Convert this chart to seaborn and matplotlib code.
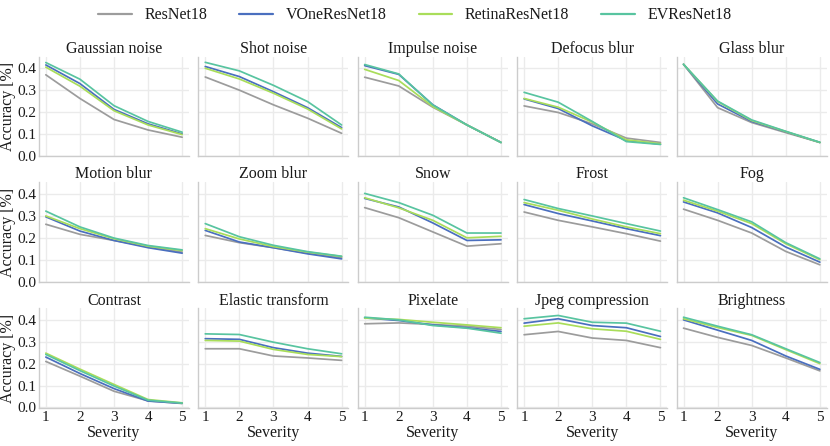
"""
Corruption robustness: accuracy vs. severity for each ImageNet-C corruption.
"""
import matplotlib
matplotlib.use("Agg")
import matplotlib.pyplot as plt
import pandas as pd
import seaborn as sns

SEVERITY = [1, 2, 3, 4, 5]
MODELS = ["ResNet18", "VOneResNet18", "RetinaResNet18", "EVResNet18"]
COLORS = ["#9c9c9c", "#4a6fbf", "#a9dd5a", "#58c4a0"]
CORRUPTIONS = [
    "Gaussian noise", "Shot noise", "Impulse noise", "Defocus blur", "Glass blur",
    "Motion blur", "Zoom blur", "Snow", "Frost", "Fog",
    "Contrast", "Elastic transform", "Pixelate", "Jpeg compression", "Brightness",
]

# accuracy per corruption, one list per model (ResNet18, VOne, Retina, EV)
gaussian_noise = [[0.370, 0.262, 0.166, 0.118, 0.085],
                  [0.415, 0.330, 0.212, 0.146, 0.100],
                  [0.405, 0.318, 0.206, 0.141, 0.097],
                  [0.426, 0.350, 0.229, 0.157, 0.108]]
shot_noise = [[0.360, 0.300, 0.233, 0.172, 0.103],
              [0.408, 0.362, 0.293, 0.220, 0.129],
              [0.400, 0.351, 0.286, 0.214, 0.123],
              [0.427, 0.388, 0.322, 0.248, 0.141]]
impulse_noise = [[0.359, 0.319, 0.222, 0.141, 0.061],
                 [0.412, 0.372, 0.233, 0.141, 0.061],
                 [0.395, 0.344, 0.225, 0.141, 0.061],
                 [0.417, 0.374, 0.232, 0.141, 0.061]]
defocus_blur = [[0.228, 0.198, 0.146, 0.081, 0.061],
                [0.260, 0.216, 0.137, 0.070, 0.053],
                [0.262, 0.222, 0.154, 0.073, 0.055],
                [0.290, 0.245, 0.157, 0.065, 0.052]]
glass_blur = [[0.418, 0.220, 0.152, 0.106, 0.061],
              [0.418, 0.237, 0.157, 0.110, 0.061],
              [0.418, 0.248, 0.161, 0.111, 0.061],
              [0.418, 0.250, 0.164, 0.112, 0.062]]
motion_blur = [[0.262, 0.216, 0.188, 0.160, 0.135],
               [0.296, 0.231, 0.188, 0.155, 0.130],
               [0.300, 0.242, 0.196, 0.162, 0.142],
               [0.322, 0.250, 0.199, 0.165, 0.145]]
zoom_blur = [[0.211, 0.178, 0.155, 0.130, 0.110],
             [0.234, 0.181, 0.155, 0.127, 0.104],
             [0.242, 0.195, 0.160, 0.135, 0.115],
             [0.265, 0.205, 0.166, 0.137, 0.116]]
snow = [[0.338, 0.292, 0.227, 0.162, 0.173],
        [0.380, 0.341, 0.268, 0.188, 0.191],
        [0.383, 0.337, 0.280, 0.200, 0.207],
        [0.403, 0.361, 0.303, 0.222, 0.222]]
frost = [[0.318, 0.280, 0.250, 0.219, 0.185],
         [0.352, 0.311, 0.277, 0.242, 0.210],
         [0.361, 0.326, 0.286, 0.250, 0.219],
         [0.375, 0.334, 0.300, 0.265, 0.231]]
fog = [[0.331, 0.280, 0.222, 0.138, 0.077],
       [0.364, 0.314, 0.247, 0.158, 0.089],
       [0.372, 0.322, 0.265, 0.173, 0.100],
       [0.383, 0.329, 0.273, 0.178, 0.104]]
contrast = [[0.210, 0.143, 0.074, 0.030, 0.018],
            [0.230, 0.155, 0.086, 0.029, 0.019],
            [0.248, 0.175, 0.105, 0.036, 0.021],
            [0.242, 0.168, 0.098, 0.033, 0.020]]
elastic_transform = [[0.268, 0.268, 0.235, 0.226, 0.215],
                     [0.314, 0.311, 0.273, 0.248, 0.233],
                     [0.306, 0.303, 0.265, 0.242, 0.232],
                     [0.336, 0.333, 0.298, 0.268, 0.245]]
pixelate = [[0.382, 0.386, 0.379, 0.371, 0.356],
            [0.409, 0.397, 0.377, 0.364, 0.347],
            [0.408, 0.402, 0.389, 0.377, 0.364],
            [0.412, 0.400, 0.374, 0.362, 0.339]]
jpeg_compression = [[0.332, 0.347, 0.317, 0.306, 0.273],
                    [0.385, 0.405, 0.374, 0.364, 0.324],
                    [0.371, 0.386, 0.359, 0.348, 0.311],
                    [0.405, 0.420, 0.389, 0.385, 0.348]]
brightness = [[0.362, 0.320, 0.283, 0.226, 0.167],
              [0.400, 0.353, 0.306, 0.235, 0.174],
              [0.405, 0.365, 0.329, 0.264, 0.200],
              [0.412, 0.371, 0.332, 0.268, 0.205]]

VALUES = [gaussian_noise, shot_noise, impulse_noise, defocus_blur, glass_blur,
          motion_blur, zoom_blur, snow, frost, fog,
          contrast, elastic_transform, pixelate, jpeg_compression, brightness]


def build_frame() -> pd.DataFrame:
    rows = []
    for corruption, per_model in zip(CORRUPTIONS, VALUES):
        for model, accs in zip(MODELS, per_model):
            for sev, acc in zip(SEVERITY, accs):
                rows.append({"corruption": corruption, "model": model,
                             "severity": sev, "accuracy": acc})
    return pd.DataFrame(rows)


def main() -> None:
    df = build_frame()

    sns.set_theme(style="whitegrid", rc={
        "grid.color": "#ebebeb",
        "axes.edgecolor": "#cccccc",
        "axes.linewidth": 1.0,
    })
    plt.rcParams["font.family"] = ["Liberation Serif", "DejaVu Serif"]
    text_color = "#1a1a1a"

    palette = dict(zip(MODELS, COLORS))
    fig, axes = plt.subplots(3, 5, figsize=(8.3, 4.46), dpi=100, sharex=True, sharey=True)

    for ax, corruption in zip(axes.flat, CORRUPTIONS):
        sub = df[df["corruption"] == corruption]
        sns.lineplot(data=sub, x="severity", y="accuracy", hue="model",
                     hue_order=MODELS, palette=palette, linewidth=1.25,
                     legend=False, ax=ax)
        ax.set_title(corruption, fontsize=11.5, pad=2.5, color=text_color)
        ax.set_xlabel("")
        ax.set_ylabel("")
        ax.set_xticks(SEVERITY)
        ax.set_yticks([0.0, 0.1, 0.2, 0.3, 0.4])
        ax.set_xlim(0.8, 5.2)
        ax.set_ylim(-0.003, 0.453)
        ax.tick_params(labelsize=11, length=0, pad=2, colors=text_color)
        sns.despine(ax=ax)

    for ax in axes[:, 0]:
        ax.set_ylabel("Accuracy [%]", fontsize=11.5, labelpad=1, color=text_color)
    for ax in axes[-1, :]:
        ax.set_xlabel("Severity", fontsize=11.5, labelpad=1, color=text_color)

    handles = [plt.Line2D([], [], color=c, linewidth=1.6) for c in COLORS]
    fig.legend(handles, MODELS, loc="center", ncol=4, frameon=False,
               fontsize=11.5, bbox_to_anchor=(0.5, 0.966), columnspacing=2.0,
               handlelength=2.1, handletextpad=0.8, labelcolor=text_color)

    fig.subplots_adjust(left=0.047, right=0.996, top=0.873, bottom=0.085,
                        wspace=0.063, hspace=0.26)
    fig.savefig("out.png", dpi=100)


if __name__ == "__main__":
    main()
